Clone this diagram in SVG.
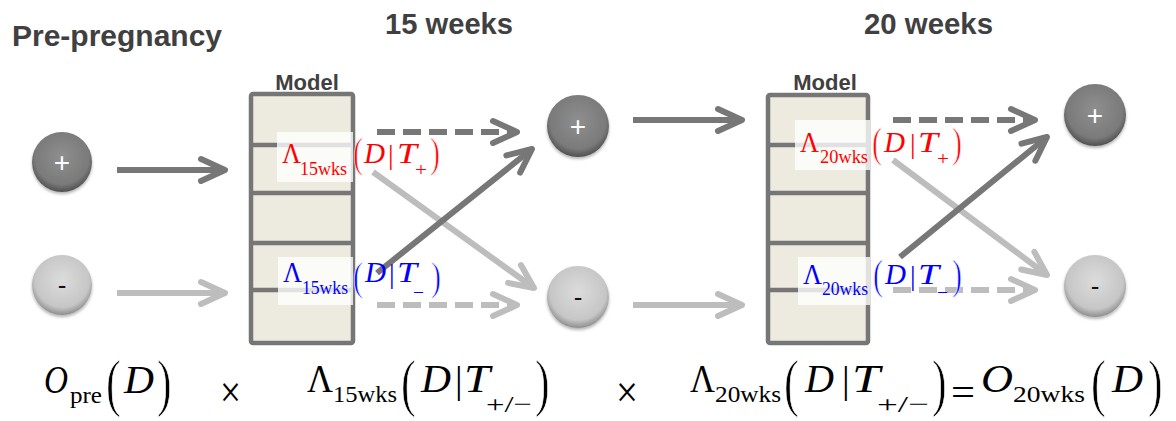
<svg xmlns="http://www.w3.org/2000/svg" width="1176" height="421" viewBox="0 0 1176 421">
<style>
.title{font-family:"Liberation Sans",Arial,sans-serif;font-weight:bold;fill:#404040}
.box{fill:#edeae0;stroke:#767676;stroke-width:4.5}
.div{stroke:#767676;stroke-width:4.5}
.lblbg{fill:#ffffff;fill-opacity:0.78}
.m{font-family:"Liberation Serif","Times New Roman",serif}
.i{font-style:italic}
.red{fill:#ff0000}
.blue{fill:#0000ff}
.blk{fill:#000000}
.thin{stroke:#ffffff;stroke-width:0.6}
.dark{stroke:#777777;stroke-width:6;fill:none}
.light{stroke:#bdbdbd;stroke-width:6;fill:none}
.dash{stroke-dasharray:18 8}
.sign{font-family:"Liberation Sans",Arial,sans-serif;text-anchor:middle}
</style>
<defs>
<radialGradient id="gDark" cx="0.5" cy="0.42" r="0.58">
<stop offset="0" stop-color="#8f8f8f"/>
<stop offset="0.78" stop-color="#7a7a7a"/>
<stop offset="1" stop-color="#505050"/>
</radialGradient>
<radialGradient id="gLight" cx="0.5" cy="0.42" r="0.58">
<stop offset="0" stop-color="#dcdcdc"/>
<stop offset="0.78" stop-color="#c6c6c6"/>
<stop offset="1" stop-color="#8e8e8e"/>
</radialGradient>
<filter id="sh" x="-30%" y="-30%" width="160%" height="170%">
<feDropShadow dx="0" dy="2" stdDeviation="1.5" flood-color="#000" flood-opacity="0.3"/>
</filter>
<marker id="ahDark" markerUnits="userSpaceOnUse" orient="auto" refX="0" refY="0" markerWidth="40" markerHeight="40" viewBox="-30 -20 40 40" overflow="visible">
<path d="M-24,-11 L0,0 L-24,11" fill="none" stroke="#777777" stroke-width="6" stroke-linecap="round" stroke-linejoin="round" stroke-dasharray="none"/>
</marker>
<marker id="ahLight" markerUnits="userSpaceOnUse" orient="auto" refX="0" refY="0" markerWidth="40" markerHeight="40" viewBox="-30 -20 40 40" overflow="visible">
<path d="M-24,-11 L0,0 L-24,11" fill="none" stroke="#bdbdbd" stroke-width="6" stroke-linecap="round" stroke-linejoin="round" stroke-dasharray="none"/>
</marker>
</defs>

<g id="titles">
<text class="title" x="12" y="46" font-size="30" textLength="210" lengthAdjust="spacingAndGlyphs">Pre-pregnancy</text>
<text class="title" x="385" y="34" font-size="29" textLength="128" lengthAdjust="spacingAndGlyphs">15 weeks</text>
<text class="title" x="864" y="34" font-size="29" textLength="129" lengthAdjust="spacingAndGlyphs">20 weeks</text>
</g>

<g id="model-15wks">
<text class="title" x="307" y="90" font-size="22" text-anchor="middle">Model</text>
<rect class="box" x="251" y="94" width="102" height="249" rx="2"/>
<line class="div" x1="251" y1="145" x2="353" y2="145"/>
<line class="div" x1="251" y1="193" x2="353" y2="193"/>
<line class="div" x1="251" y1="243" x2="353" y2="243"/>
<line class="div" x1="251" y1="290" x2="353" y2="290"/>
</g>

<g id="model-20wks">
<text class="title" x="825" y="90" font-size="22" text-anchor="middle">Model</text>
<rect class="box" x="768" y="95" width="100" height="248" rx="2"/>
<line class="div" x1="768" y1="145" x2="868" y2="145"/>
<line class="div" x1="768" y1="193" x2="868" y2="193"/>
<line class="div" x1="768" y1="243" x2="868" y2="243"/>
<line class="div" x1="768" y1="290" x2="868" y2="290"/>
</g>

<g id="connectors">
<line class="dark" x1="117" y1="170" x2="225" y2="170" marker-end="url(#ahDark)"/>
<line class="light" x1="117" y1="293" x2="225" y2="293" marker-end="url(#ahLight)"/>
<line class="dark dash" x1="377" y1="132" x2="517" y2="132" marker-end="url(#ahDark)"/>
<line class="light dash" x1="377" y1="305" x2="517" y2="305" marker-end="url(#ahLight)"/>
<line class="light" x1="373" y1="172" x2="534" y2="288" marker-end="url(#ahLight)"/>
<line class="dark" x1="377" y1="273" x2="532" y2="149" marker-end="url(#ahDark)"/>
<line class="dark" x1="633" y1="120" x2="742" y2="120" marker-end="url(#ahDark)"/>
<line class="light" x1="633" y1="305" x2="742" y2="305" marker-end="url(#ahLight)"/>
<line class="dark dash" x1="893" y1="120" x2="1035" y2="120" marker-end="url(#ahDark)"/>
<line class="light dash" x1="893" y1="290" x2="1035" y2="290" marker-end="url(#ahLight)"/>
<line class="light" x1="893" y1="160" x2="1047" y2="275" marker-end="url(#ahLight)"/>
<line class="dark" x1="900" y1="257" x2="1047" y2="137" marker-end="url(#ahDark)"/>
</g>

<g id="label-15-pos">
<rect class="lblbg" x="277" y="132" width="76" height="50"/>
<g class="m red">
<text x="282" y="163" font-size="30" textLength="19" lengthAdjust="spacingAndGlyphs">Λ</text>
<text x="300" y="175" font-size="19" textLength="47" lengthAdjust="spacingAndGlyphs">15wks</text>
<text class="thin" transform="translate(353,167) scale(1,1.42)" font-size="30">(</text>
<text class="i" x="364" y="163" font-size="30" textLength="21" lengthAdjust="spacingAndGlyphs">D</text>
<text x="388" y="164" font-size="28">|</text>
<text class="i" x="397" y="163" font-size="30" textLength="20" lengthAdjust="spacingAndGlyphs">T</text>
<text x="415" y="176" font-size="19" textLength="12" lengthAdjust="spacingAndGlyphs">+</text>
<text class="thin" transform="translate(430,167) scale(1,1.42)" font-size="30">)</text>
</g>
</g>

<g id="label-15-neg">
<rect class="lblbg" x="278" y="257" width="75" height="48"/>
<g class="m blue">
<text x="283" y="282" font-size="30" textLength="19" lengthAdjust="spacingAndGlyphs">Λ</text>
<text x="302" y="294" font-size="19" textLength="46" lengthAdjust="spacingAndGlyphs">15wks</text>
<text class="thin" transform="translate(353,290) scale(1,1.36)" font-size="30">(</text>
<text class="i" x="365" y="282" font-size="30" textLength="21" lengthAdjust="spacingAndGlyphs">D</text>
<text x="389" y="283" font-size="28">|</text>
<text class="i" x="397" y="282" font-size="30" textLength="20" lengthAdjust="spacingAndGlyphs">T</text>
<text x="413" y="299" font-size="19" textLength="11" lengthAdjust="spacingAndGlyphs">−</text>
<text class="thin" transform="translate(431,290) scale(1,1.36)" font-size="30">)</text>
</g>
</g>

<g id="label-20-pos">
<rect class="lblbg" x="795" y="120" width="75" height="50"/>
<g class="m red">
<text x="800" y="152" font-size="30" textLength="19" lengthAdjust="spacingAndGlyphs">Λ</text>
<text x="820" y="163" font-size="19" textLength="48" lengthAdjust="spacingAndGlyphs">20wks</text>
<text class="thin" transform="translate(872,157) scale(1,1.42)" font-size="30">(</text>
<text class="i" x="884" y="152" font-size="30" textLength="21" lengthAdjust="spacingAndGlyphs">D</text>
<text x="910" y="153" font-size="28">|</text>
<text class="i" x="918" y="152" font-size="30" textLength="20" lengthAdjust="spacingAndGlyphs">T</text>
<text x="937" y="165" font-size="19" textLength="12" lengthAdjust="spacingAndGlyphs">+</text>
<text class="thin" transform="translate(952,157) scale(1,1.42)" font-size="30">)</text>
</g>
</g>

<g id="label-20-neg">
<rect class="lblbg" x="798" y="257" width="72" height="48"/>
<g class="m blue">
<text x="803" y="284" font-size="30" textLength="19" lengthAdjust="spacingAndGlyphs">Λ</text>
<text x="822" y="295" font-size="19" textLength="46" lengthAdjust="spacingAndGlyphs">20wks</text>
<text class="thin" transform="translate(873,289) scale(1,1.42)" font-size="30">(</text>
<text class="i" x="885" y="284" font-size="30" textLength="21" lengthAdjust="spacingAndGlyphs">D</text>
<text x="910" y="285" font-size="28">|</text>
<text class="i" x="918" y="284" font-size="30" textLength="21" lengthAdjust="spacingAndGlyphs">T</text>
<text x="937" y="299" font-size="19" textLength="11" lengthAdjust="spacingAndGlyphs">−</text>
<text class="thin" transform="translate(952,289) scale(1,1.42)" font-size="30">)</text>
</g>
</g>

<g id="node-pre-pos">
<circle cx="62" cy="162" r="30" fill="url(#gDark)" filter="url(#sh)"/>
<text class="sign" x="62" y="172" font-size="28" fill="#ffffff">+</text>
</g>
<g id="node-pre-neg">
<circle cx="62" cy="285" r="30" fill="url(#gLight)" filter="url(#sh)"/>
<text class="sign" x="62" y="294" font-size="26" fill="#111111">-</text>
</g>
<g id="node-15-pos">
<circle cx="578" cy="126" r="31" fill="url(#gDark)" filter="url(#sh)"/>
<text class="sign" x="578" y="136" font-size="28" fill="#ffffff">+</text>
</g>
<g id="node-15-neg">
<circle cx="578" cy="297" r="31" fill="url(#gLight)" filter="url(#sh)"/>
<text class="sign" x="578" y="306" font-size="26" fill="#111111">-</text>
</g>
<g id="node-20-pos">
<circle cx="1095" cy="115" r="31" fill="url(#gDark)" filter="url(#sh)"/>
<text class="sign" x="1095" y="125" font-size="28" fill="#ffffff">+</text>
</g>
<g id="node-20-neg">
<circle cx="1095" cy="286" r="31" fill="url(#gLight)" filter="url(#sh)"/>
<text class="sign" x="1095" y="295" font-size="26" fill="#111111">-</text>
</g>

<g id="equation" class="m blk">
<text class="i" x="44" y="393" font-size="40" textLength="24" lengthAdjust="spacingAndGlyphs">O</text>
<text x="70" y="403" font-size="24" textLength="32" lengthAdjust="spacingAndGlyphs">pre</text>
<text class="thin" transform="translate(106,404) scale(1,1.46)" font-size="44">(</text>
<text class="i" x="124" y="393" font-size="40" textLength="30" lengthAdjust="spacingAndGlyphs">D</text>
<text class="thin" transform="translate(157,404) scale(1,1.46)" font-size="44">)</text>
<text x="220" y="407" font-size="44" textLength="21" lengthAdjust="spacingAndGlyphs">×</text>

<text x="307" y="392" font-size="40" textLength="26" lengthAdjust="spacingAndGlyphs">Λ</text>
<text x="333" y="402" font-size="24" textLength="64" lengthAdjust="spacingAndGlyphs">15wks</text>
<text class="thin" transform="translate(401,404) scale(1,1.46)" font-size="44">(</text>
<text class="i" x="421" y="392" font-size="40" textLength="30" lengthAdjust="spacingAndGlyphs">D</text>
<text x="455" y="393" font-size="38">|</text>
<text class="i" x="464" y="392" font-size="40" textLength="26" lengthAdjust="spacingAndGlyphs">T</text>
<text x="486" y="412" font-size="24" textLength="46" lengthAdjust="spacingAndGlyphs">+/−</text>
<text class="thin" transform="translate(535,404) scale(1,1.46)" font-size="44">)</text>

<text x="616" y="407" font-size="44" textLength="22" lengthAdjust="spacingAndGlyphs">×</text>

<text x="690" y="392" font-size="40" textLength="25" lengthAdjust="spacingAndGlyphs">Λ</text>
<text x="715" y="402" font-size="24" textLength="66" lengthAdjust="spacingAndGlyphs">20wks</text>
<text class="thin" transform="translate(784,404) scale(1,1.46)" font-size="44">(</text>
<text class="i" x="805" y="392" font-size="40" textLength="29" lengthAdjust="spacingAndGlyphs">D</text>
<text x="842" y="393" font-size="38">|</text>
<text class="i" x="852" y="392" font-size="40" textLength="28" lengthAdjust="spacingAndGlyphs">T</text>
<text x="877" y="412" font-size="24" textLength="52" lengthAdjust="spacingAndGlyphs">+/−</text>
<text class="thin" transform="translate(932,404) scale(1,1.46)" font-size="44">)</text>

<text x="951" y="406" font-size="40" textLength="24" lengthAdjust="spacingAndGlyphs">=</text>
<text class="i" x="981" y="392" font-size="40" textLength="32" lengthAdjust="spacingAndGlyphs">O</text>
<text x="1013" y="402" font-size="24" textLength="72" lengthAdjust="spacingAndGlyphs">20wks</text>
<text class="thin" transform="translate(1091,404) scale(1,1.46)" font-size="44">(</text>
<text class="i" x="1112" y="392" font-size="40" textLength="31" lengthAdjust="spacingAndGlyphs">D</text>
<text class="thin" transform="translate(1148,404) scale(1,1.46)" font-size="44">)</text>
</g>
</svg>
